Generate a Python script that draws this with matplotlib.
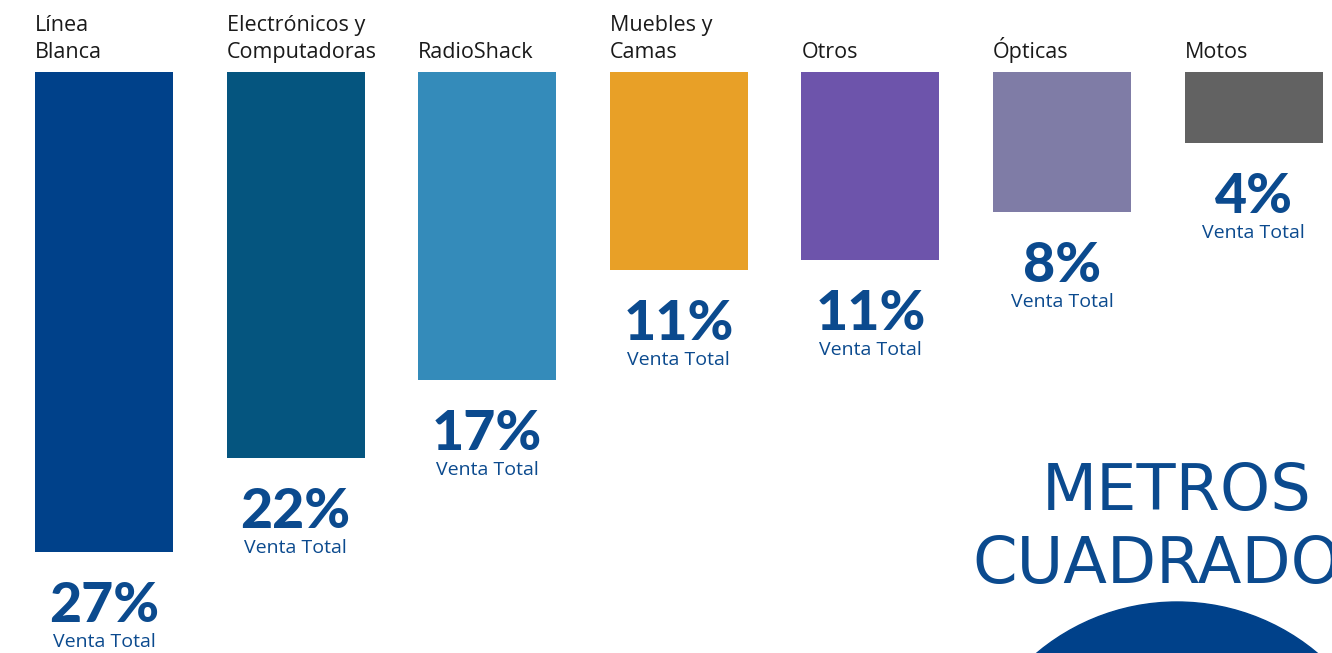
import numpy as np
import matplotlib.pyplot as plt
from matplotlib.patches import Ellipse

CATEGORIES = ["Línea\nBlanca", "Electrónicos y\nComputadoras", "RadioShack",
              "Muebles y\nCamas", "Otros", "Ópticas", "Motos"]
SHARE = [27.1, 21.8, 17.4, 11.2, 10.6, 7.9, 4.0]          # bar lengths (% venta total)
SHARE_LABELS = ["27%", "22%", "17%", "11%", "11%", "8%", "4%"]
COLORS = ["#00418a", "#05557f", "#348bba", "#e8a027", "#6d54ab", "#7f7ca6", "#626262"]
TEXT_BLUE = "#0b4a8e"

W, H, DPI = 1332, 653, 100
fig = plt.figure(figsize=(W / DPI, H / DPI), dpi=DPI)

# axes spans from the top of the bars down to the bottom edge
top_px = 72
ax = fig.add_axes([0, 0, 1, (H - top_px) / H])
step = 191.6
x = np.arange(len(CATEGORIES))
ax.bar(x, SHARE, width=138 / step, color=COLORS, align="center")
ax.set_xlim(-104 / step, (W - 104) / step)
ax.set_ylim((H - top_px) / 17.7, 0)
ax.axis("off")

for i, (cat, v, lab) in enumerate(zip(CATEGORIES, SHARE, SHARE_LABELS)):
    ax.annotate(cat, (i - 69 / step, 0), xytext=(0, 9), textcoords="offset pixels",
                ha="left", va="bottom", fontsize=15.5, family="Open Sans",
                color="#1a1a1a", linespacing=1.35, annotation_clip=False)
    ax.annotate(lab, (i, v), xytext=(0, -29), textcoords="offset pixels",
                ha="center", va="top", fontsize=40, family="Lato", weight="black",
                color=TEXT_BLUE, annotation_clip=False)
    ax.annotate("Venta Total", (i, v), xytext=(0, -81), textcoords="offset pixels",
                ha="center", va="top", fontsize=14, family="Open Sans",
                color=TEXT_BLUE, annotation_clip=False)

fig.text(1177 / W, 1 - 510 / H, "METROS", ha="center", va="baseline",
         fontsize=46, family="DejaVu Sans", color=TEXT_BLUE)
fig.text(1177 / W, 1 - 583 / H, "CUADRADOS", ha="center", va="baseline",
         fontsize=46, family="DejaVu Sans", color=TEXT_BLUE)

r = 218
fig.patches.append(Ellipse((1177 / W, 1 - 820 / H), 2 * r / W, 2 * r / H,
                           transform=fig.transFigure, color="#00418a"))

fig.savefig("out.png", dpi=DPI, facecolor="white")
